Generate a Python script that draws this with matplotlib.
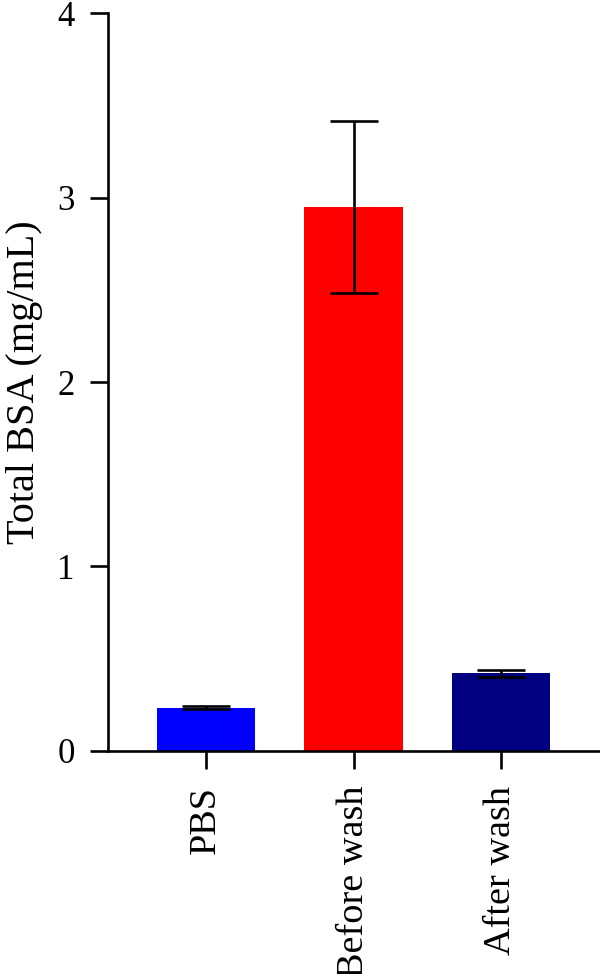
import numpy as np
import matplotlib
matplotlib.use("Agg")
import matplotlib.pyplot as plt

# Data
groups = ["PBS", "Before wash", "After wash"]
means = [0.235, 2.95, 0.42]
errs = [0.008, 0.465, 0.02]
colors = ["#0000FF", "#FF0000", "#000080"]

plt.rcParams["font.family"] = ["Liberation Serif", "DejaVu Serif"]

fig = plt.figure(figsize=(6.0, 9.74), dpi=100)
ax = fig.add_axes([0.18, 0.229, 0.82, 0.7576])

x = np.arange(len(groups))
ax.bar(x, means, width=0.665, color=colors, zorder=2)
ax.errorbar(x, means, yerr=errs, fmt="none", ecolor="black",
            elinewidth=1.9, capsize=17.5, capthick=1.9, zorder=3)

ax.set_xlim(-0.664, 2.67)
ax.set_ylim(0, 4)
ax.set_yticks([0, 1, 2, 3, 4])
ax.set_xticks(x)
ax.set_xticklabels(groups, rotation=90, fontsize=27.5)
ax.tick_params(axis="y", labelsize=25, length=13, width=1.9, pad=11)
ax.tick_params(axis="x", length=13, width=1.9, pad=12)
ax.set_ylabel("Total BSA (mg/mL)", fontsize=29, labelpad=10)

for s in ["top", "right"]:
    ax.spines[s].set_visible(False)
for s in ["left", "bottom"]:
    ax.spines[s].set_linewidth(1.9)

fig.savefig("out.png", dpi=100)
